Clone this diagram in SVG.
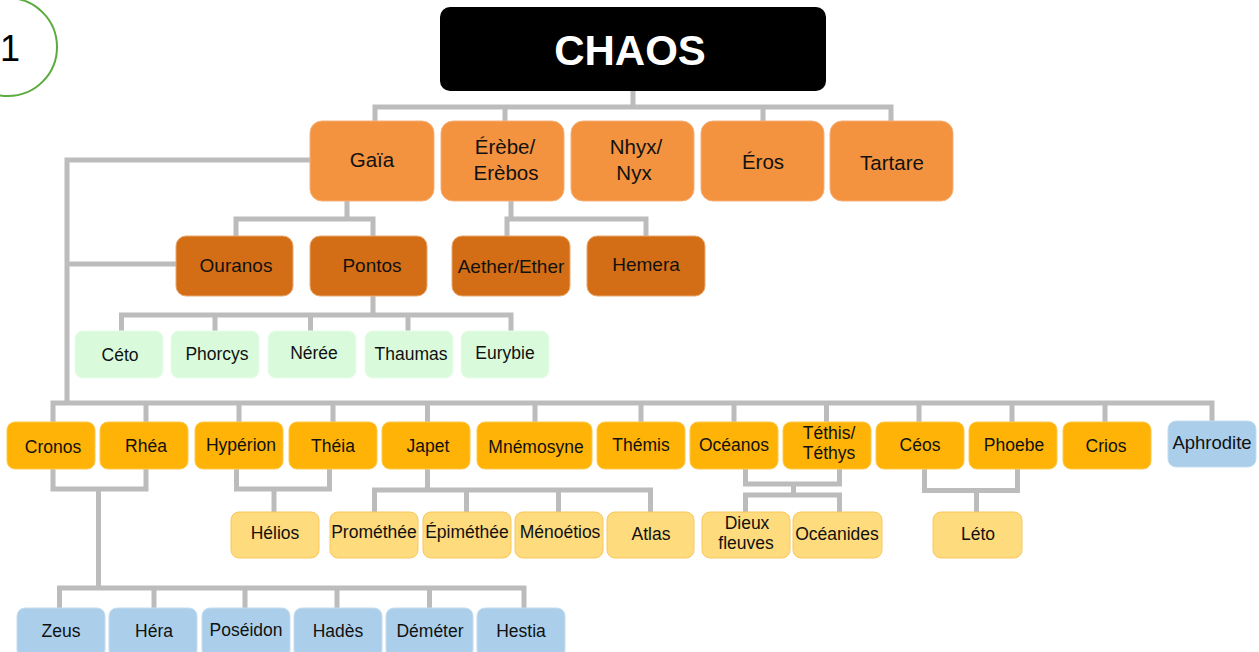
<svg xmlns="http://www.w3.org/2000/svg" width="1259" height="652" viewBox="0 0 1259 652">
<style>
text{font-family:"Liberation Sans",Arial,sans-serif;text-anchor:middle;fill:#111}
.l1{fill:#f3923f;stroke:#f6b17a;stroke-width:1}
.l2{fill:#d36e16;stroke:#e9a870;stroke-width:1}
.gr{fill:#d9fbdb;stroke:#e6fce8;stroke-width:1}
.ti{fill:#feb306;stroke:#fcc94e;stroke-width:1}
.ly{fill:#fedb7d;stroke:#f8c85e;stroke-width:1}
.bl{fill:#abcfeb;stroke:#c3ddf1;stroke-width:1}
.t1{font-size:20.5px}
.t2{font-size:19px}
.t3{font-size:17.5px}
#conn path{fill:none;stroke:#bcbcbc;stroke-width:5}
</style>
<rect width="1259" height="652" fill="#fff"/>
<g id="badge">
<circle cx="8" cy="47" r="49" fill="none" stroke="#5aac3c" stroke-width="2"/>
<text x="10" y="61" style="font-size:36px;fill:#000">1</text>
</g>
<g id="conn">
<path d="M633 91V107M375 121V107H891V121M505 107V121M763 107V121"/>
<path d="M310 160H67V403M67 264H176"/>
<path d="M347 201V219M236 236V219H373V236"/>
<path d="M373 296V315M121.5 331V315H511V331M215 315V331M310.5 315V331M408 315V331"/>
<path d="M511 201V219M507 236V219H646V236"/>
<path d="M53 422V403H1212V421M146 403V422M239 403V422M333 403V422M427.5 403V422M535 403V422M641 403V422M734 403V422M826.5 403V422M919 403V422M1012 403V422M1105 403V422"/>
<path d="M53 469V489H146V469M98.5 489V588M59.5 608V588H524V608M154 588V608M245 588V608M337 588V608M429.5 588V608"/>
<path d="M236.5 469V489H329.5V469M274 489V512"/>
<path d="M427.5 469V490M374.5 512V490H650.5V512M466.5 490V512M558.5 490V512"/>
<path d="M745.5 469V484H839.5V469M793.5 484V495M745.5 512V495H839.5V512"/>
<path d="M924.5 469V490.5H1017.5V469M976.5 490.5V512"/>
</g>
<g id="chaos"><rect x="440" y="7" width="386" height="84" rx="10" fill="#000"/><text x="630" y="65" style="font-size:42px;font-weight:bold;fill:#fff">CHAOS</text></g>
<g id="gaia"><rect class="l1" x="310" y="121" width="124" height="80" rx="12"/><text class="t1" x="372" y="167">Gaïa</text></g>
<g id="erebe"><rect class="l1" x="441" y="121" width="123" height="80" rx="12"/><text class="t1" x="505" y="154">Érèbe/</text><text class="t1" x="506" y="180">Erèbos</text></g>
<g id="nhyx"><rect class="l1" x="571" y="121" width="123" height="80" rx="12"/><text class="t1" x="636" y="154">Nhyx/</text><text class="t1" x="634" y="180">Nyx</text></g>
<g id="eros"><rect class="l1" x="701" y="121" width="123" height="80" rx="12"/><text class="t1" x="763" y="169">Éros</text></g>
<g id="tartare"><rect class="l1" x="830" y="121" width="123" height="80" rx="12"/><text class="t1" x="892" y="170">Tartare</text></g>
<g id="ouranos"><rect class="l2" x="176" y="236" width="117" height="60" rx="10"/><text class="t2" x="236" y="272">Ouranos</text></g>
<g id="pontos"><rect class="l2" x="310" y="236" width="117" height="60" rx="10"/><text class="t2" x="372" y="272">Pontos</text></g>
<g id="aether"><rect class="l2" x="452" y="236" width="118" height="60" rx="10"/><text class="t2" x="511" y="273">Aether/Ether</text></g>
<g id="hemera"><rect class="l2" x="587" y="236" width="118" height="60" rx="10"/><text class="t2" x="646" y="271">Hemera</text></g>
<g id="ceto"><rect class="gr" x="75" y="331" width="88" height="47" rx="8"/><text class="t3" x="120" y="361">Céto</text></g>
<g id="phorcys"><rect class="gr" x="171" y="331" width="88" height="47" rx="8"/><text class="t3" x="217" y="360">Phorcys</text></g>
<g id="neree"><rect class="gr" x="268" y="331" width="88" height="47" rx="8"/><text class="t3" x="314" y="359">Nérée</text></g>
<g id="thaumas"><rect class="gr" x="365" y="331" width="88" height="47" rx="8"/><text class="t3" x="411" y="360">Thaumas</text></g>
<g id="eurybie"><rect class="gr" x="461" y="331" width="88" height="47" rx="8"/><text class="t3" x="505" y="359">Eurybie</text></g>
<g id="cronos"><rect class="ti" x="7" y="422" width="88" height="47" rx="8"/><text class="t3" x="53" y="453">Cronos</text></g>
<g id="rhea"><rect class="ti" x="100" y="422" width="88" height="47" rx="8"/><text class="t3" x="146" y="452">Rhéa</text></g>
<g id="hyperion"><rect class="ti" x="195" y="422" width="88" height="47" rx="8"/><text class="t3" x="241" y="451">Hypérion</text></g>
<g id="theia"><rect class="ti" x="289" y="422" width="88" height="47" rx="8"/><text class="t3" x="333" y="452">Théia</text></g>
<g id="japet"><rect class="ti" x="382" y="422" width="88" height="47" rx="8"/><text class="t3" x="428" y="452">Japet</text></g>
<g id="mnemosyne"><rect class="ti" x="477" y="422" width="115" height="47" rx="8"/><text class="t3" x="536" y="453">Mnémosyne</text></g>
<g id="themis"><rect class="ti" x="597" y="422" width="88" height="47" rx="8"/><text class="t3" x="641" y="451">Thémis</text></g>
<g id="oceanos"><rect class="ti" x="690" y="422" width="88" height="47" rx="8"/><text class="t3" x="734" y="451">Océanos</text></g>
<g id="tethis"><rect class="ti" x="783" y="422" width="88" height="47" rx="8"/><text class="t3" x="829" y="439">Téthis/</text><text class="t3" x="829" y="459">Téthys</text></g>
<g id="ceos"><rect class="ti" x="876" y="422" width="88" height="47" rx="8"/><text class="t3" x="920" y="451">Céos</text></g>
<g id="phoebe"><rect class="ti" x="969" y="422" width="88" height="47" rx="8"/><text class="t3" x="1014" y="451">Phoebe</text></g>
<g id="crios"><rect class="ti" x="1063" y="422" width="88" height="47" rx="8"/><text class="t3" x="1106" y="452">Crios</text></g>
<g id="aphrodite"><rect class="bl" x="1168" y="421" width="88" height="46" rx="8"/><text x="1212" y="449" style="font-size:18.5px">Aphrodite</text></g>
<g id="helios"><rect class="ly" x="231" y="512" width="88" height="46" rx="8"/><text class="t3" x="275" y="539">Hélios</text></g>
<g id="promethee"><rect class="ly" x="330" y="512" width="88" height="46" rx="8"/><text class="t3" x="374" y="538">Prométhée</text></g>
<g id="epimethee"><rect class="ly" x="423" y="512" width="88" height="46" rx="8"/><text class="t3" x="467" y="538">Épiméthée</text></g>
<g id="menoetios"><rect class="ly" x="515" y="512" width="88" height="46" rx="8"/><text class="t3" x="560" y="538">Ménoétios</text></g>
<g id="atlas"><rect class="ly" x="607" y="512" width="87" height="46" rx="8"/><text class="t3" x="651" y="540">Atlas</text></g>
<g id="dieux"><rect class="ly" x="702" y="512" width="88" height="46" rx="8"/><text class="t3" x="747" y="529">Dieux</text><text class="t3" x="746" y="549">fleuves</text></g>
<g id="oceanides"><rect class="ly" x="793" y="512" width="89" height="46" rx="8"/><text class="t3" x="837" y="540">Océanides</text></g>
<g id="leto"><rect class="ly" x="933" y="512" width="89" height="46" rx="8"/><text class="t3" x="978" y="540">Léto</text></g>
<g id="zeus"><rect class="bl" x="17" y="608" width="88" height="50" rx="8"/><text class="t3" x="61" y="637">Zeus</text></g>
<g id="hera"><rect class="bl" x="109" y="608" width="88" height="50" rx="8"/><text class="t3" x="154" y="637">Héra</text></g>
<g id="poseidon"><rect class="bl" x="202" y="608" width="88" height="50" rx="8"/><text class="t3" x="246" y="636">Poséidon</text></g>
<g id="hades"><rect class="bl" x="294" y="608" width="88" height="50" rx="8"/><text class="t3" x="338" y="637">Hadès</text></g>
<g id="demeter"><rect class="bl" x="386" y="608" width="87" height="50" rx="8"/><text class="t3" x="430" y="637">Déméter</text></g>
<g id="hestia"><rect class="bl" x="477" y="608" width="88" height="50" rx="8"/><text class="t3" x="521" y="637">Hestia</text></g>
</svg>
